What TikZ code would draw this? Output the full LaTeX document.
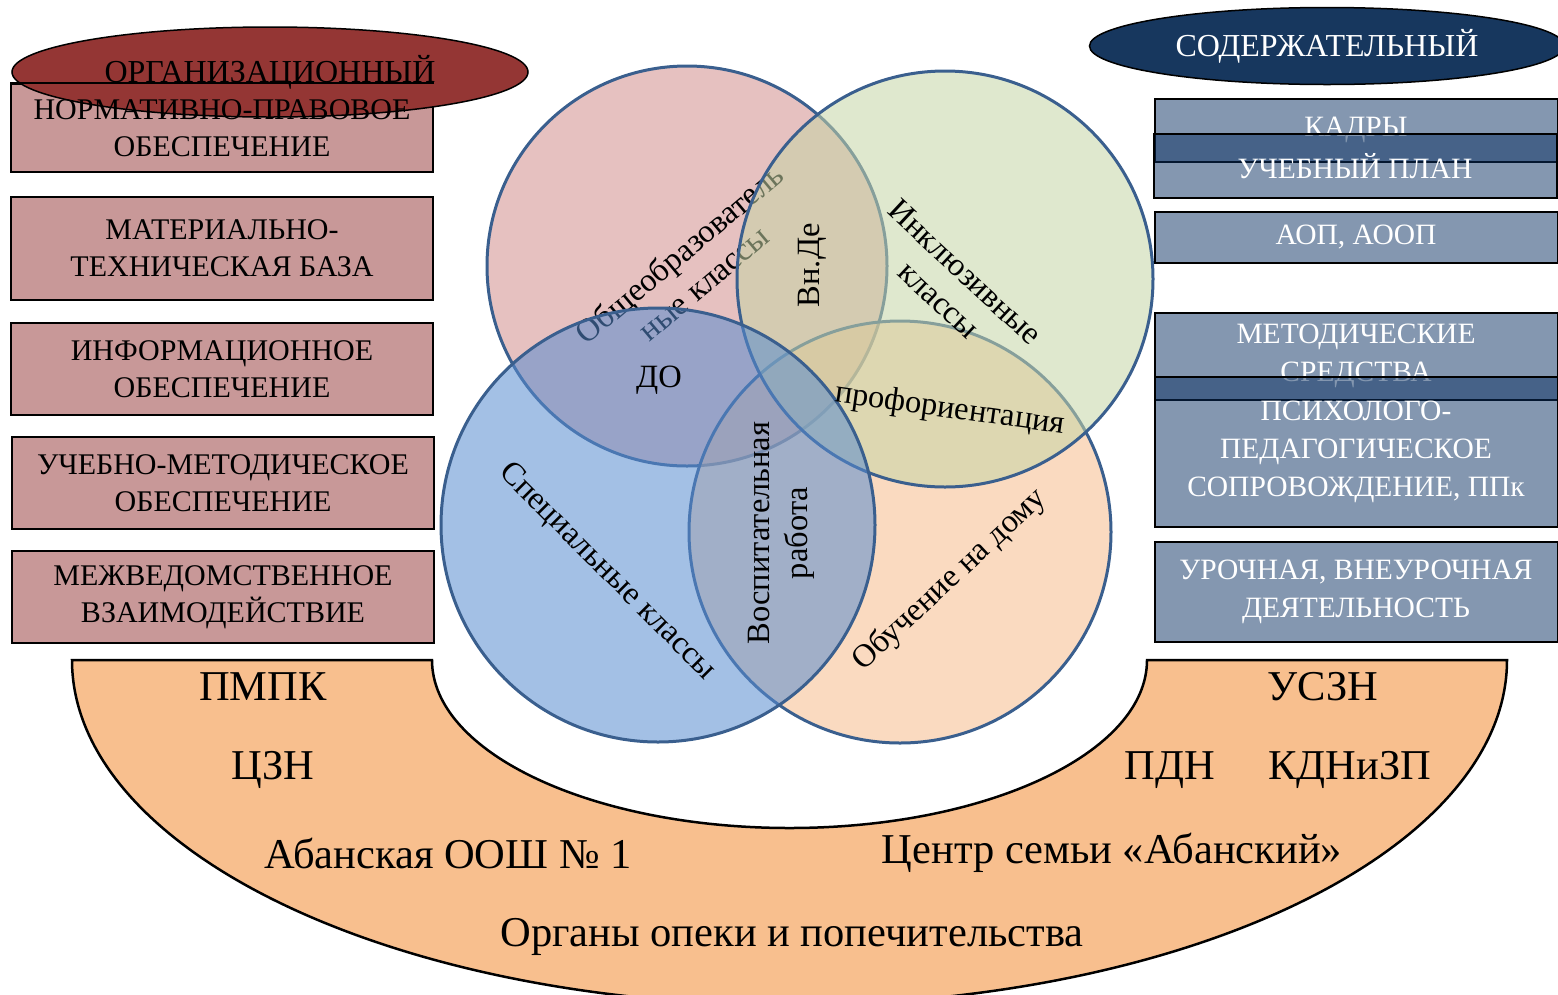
\documentclass[tikz,border=0pt]{standalone}
\usepackage{fontspec}
\setmainfont{Liberation Serif}
\usepackage{tikz}
\usetikzlibrary{
    positioning,           % Relative positioning
    shapes.geometric       % Ellipses
}
\definecolor{OrgRed}{RGB}{148,54,52}
\definecolor{OrgPink}{RGB}{200,152,152}
\definecolor{ContNavy}{RGB}{23,55,94}
\definecolor{ContBlue}{RGB}{9,47,97}
\definecolor{RingLine}{RGB}{58,95,142}
\definecolor{GenPink}{RGB}{210,142,140}
\definecolor{InclGreen}{RGB}{197,213,166}
\definecolor{SpecBlue}{RGB}{88,140,208}
\definecolor{HomeOrange}{RGB}{246,188,140}
\definecolor{ArchPeach}{RGB}{248,191,142}
\tikzset{org box/.style={
    rectangle,
    draw=black,
    line width=2pt,
    fill=OrgPink,
    align=center,
    minimum width=422pt,
    inner sep=0pt,
    font=\fontsize{30}{37}\selectfont
}}
\tikzset{org text/.style={
    align=center,
    inner sep=0pt,
    font=\fontsize{30}{37}\selectfont
}}
\tikzset{cont box/.style={
    rectangle,
    draw=black,
    line width=2pt,
    fill=ContBlue,
    fill opacity=0.5,
    text opacity=1,
    text=white,
    align=center,
    minimum width=403pt,
    inner sep=0pt,
    font=\fontsize{29.5}{38}\selectfont
}}
\tikzset{stage ellipse/.style={
    ellipse,
    draw=black,
    line width=1.5pt,
    inner sep=0pt,
    font=\fontsize{32}{38}\selectfont
}}
\tikzset{venn circle/.style={
    circle,
    draw=RingLine,
    line width=3pt,
    fill opacity=0.55,
    inner sep=0pt
}}
\tikzset{venn label/.style={
    align=center,
    inner sep=0pt,
    font=\fontsize{32.5}{38}\selectfont
}}
\tikzset{arch ring/.style={
    draw=black,
    line width=2.5pt,
    fill=ArchPeach
}}
\tikzset{partner/.style={
    inner sep=0pt,
    font=\fontsize{42.5}{50}\selectfont
}}
\begin{document}
\begin{tikzpicture}[x=1pt, y=-1pt]
    \useasboundingbox (0,0) rectangle (1558,994);
    \clip (0,0) rectangle (1558,994);

    % partners
    \path[arch ring] (72,660) -- (432,660)
        arc[start angle=180, end angle=0, x radius=357.5, y radius=168]
        -- (1507,660)
        arc[start angle=0, end angle=180, x radius=717.5, y radius=345]
        -- cycle;
    \node[partner] (pmpk) at (263,687) {ПМПК};
    \node[partner] (czn) at (273,770) {ЦЗН};
    \node[partner] (oosh) at (448,853) {Абанская ООШ № 1};
    \node[partner] (opeka) at (792,937) {Органы опеки и попечительства};
    \node[partner] (uszn) at (1323,687) {УСЗН};
    \node[partner] (pdn) at (1170,770) {ПДН};
    \node[partner] (kdn) at (1350,770) {КДНиЗП};
    \node[partner] (family) at (1112,853) {Центр семьи «Абанский»};

    % organisational block
    \node[org box, minimum height=88pt] (norm) at (222,128) {};
    \node[stage ellipse, fill=OrgRed, minimum width=516pt, minimum height=90pt] (org) at (270,72) {ОРГАНИЗАЦИОННЫЙ};
    \draw[line width=2pt] (norm.north west) -- (norm.north east);
    \node[org text] (normtext) at (norm) {НОРМАТИВНО-ПРАВОВОЕ\\ОБЕСПЕЧЕНИЕ};
    \node[org box, minimum height=103pt] (mtb) at (222,248) {МАТЕРИАЛЬНО-\\ТЕХНИЧЕСКАЯ БАЗА};
    \node[org box, minimum height=92pt] (info) at (222,369) {ИНФОРМАЦИОННОЕ\\ОБЕСПЕЧЕНИЕ};
    \node[org box, minimum height=92pt] (umo) at (223,483) {УЧЕБНО-МЕТОДИЧЕСКОЕ\\ОБЕСПЕЧЕНИЕ};
    \node[org box, minimum height=92pt] (mvz) at (223,597) {МЕЖВЕДОМСТВЕННОЕ\\ВЗАИМОДЕЙСТВИЕ};

    % content block
    \node[stage ellipse, fill=ContNavy, text=white, minimum width=475pt, minimum height=77pt] (cont) at (1327,46) {СОДЕРЖАТЕЛЬНЫЙ};
    \node[cont box, minimum height=63pt] (kadry) at (1356,130) {КАДРЫ};
    \node[cont box, minimum height=64pt] (plan) at (1355,166) {УЧЕБНЫЙ ПЛАН};
    \node[cont box, minimum height=51pt] (aop) at (1356,237) {АОП, АООП};
    \node[cont box, minimum height=87pt] (metod) at (1356,356) {МЕТОДИЧЕСКИЕ\\СРЕДСТВА};
    \node[cont box, minimum height=150pt] (ppk) at (1356,452) {ПСИХОЛОГО-\\ПЕДАГОГИЧЕСКОЕ\\СОПРОВОЖДЕНИЕ, ППк};
    \node[cont box, minimum height=100pt] (urok) at (1356,592) {УРОЧНАЯ, ВНЕУРОЧНАЯ\\ДЕЯТЕЛЬНОСТЬ};

    % venn of class forms
    \node[venn circle, fill=GenPink, minimum size=400pt] (gen) at (687,266) {};
    \node[venn label, rotate=40] (genlbl) at (691,268) {Общеобразователь\\ные классы};
    \node[venn circle, fill=HomeOrange, minimum size=422pt] (home) at (900,532) {};
    \node[venn circle, fill=InclGreen, minimum size=416pt] (incl) at (945,279) {};
    \node[venn circle, fill=SpecBlue, minimum size=434pt] (spec) at (658,525) {};
    \node[venn label, rotate=-43] (incllbl) at (952,286) {Инклюзивные\\классы};
    \node[venn label, rotate=90] (vnde) at (812,265) {Вн.Де};
    \node[venn label] (do) at (659,380) {ДО};
    \node[venn label, rotate=-8] (prof) at (950,410) {профориентация};
    \node[venn label, rotate=90] (vosp) at (781,533) {Воспитательная\\работа};
    \node[venn label, rotate=-45] (speclbl) at (607,572) {Специальные классы};
    \node[venn label, rotate=43] (homelbl) at (950,580) {Обучение на дому};
\end{tikzpicture}
\end{document}
